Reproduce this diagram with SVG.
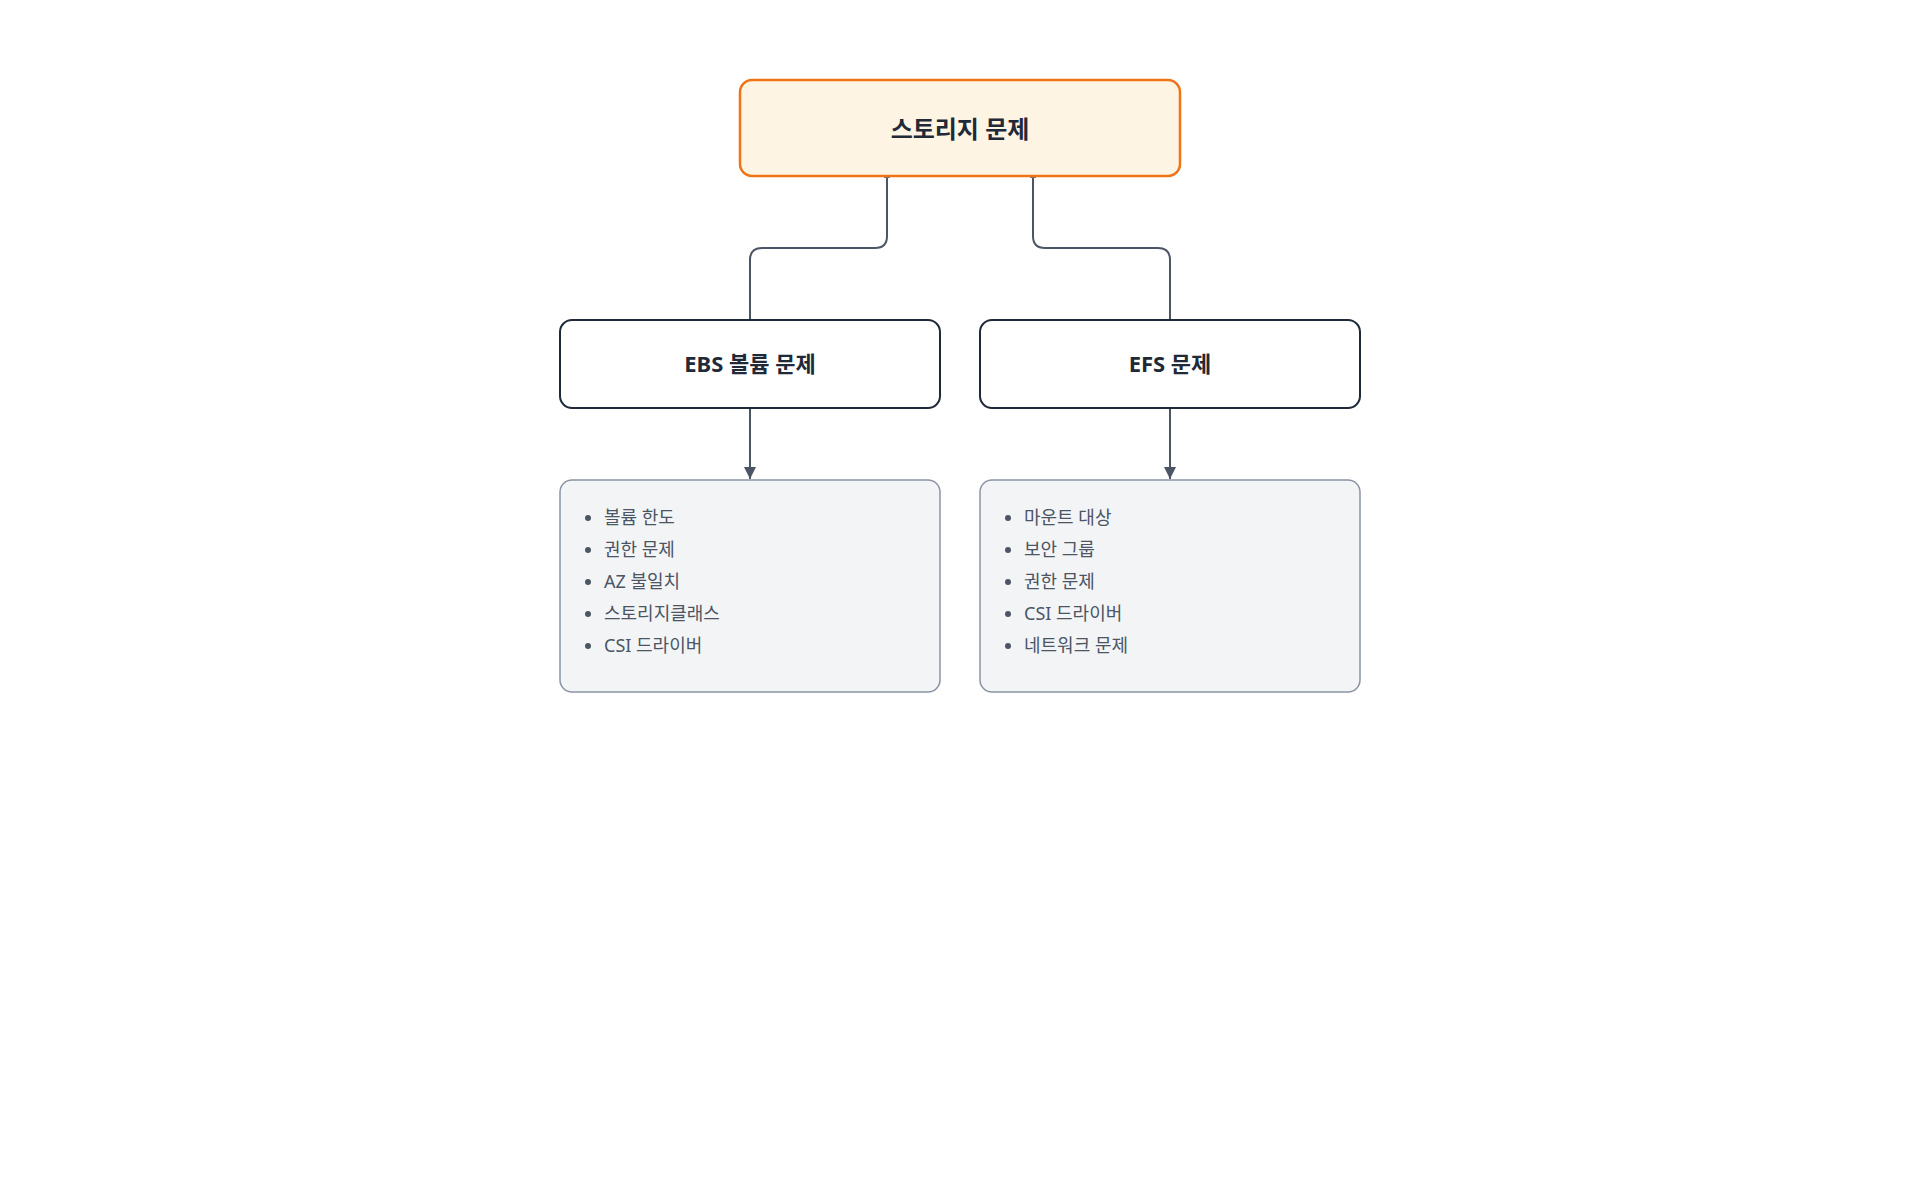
<svg xmlns="http://www.w3.org/2000/svg" width="1920" height="1200" viewBox="0 0 1920 1200">
<defs>
<marker id="arr" viewBox="0 0 12 12" refX="12" refY="6" markerWidth="12" markerHeight="12" markerUnits="userSpaceOnUse" orient="auto">
<path d="M0,0 L12,6 L0,12 z" fill="#4b5563"/>
</marker>
<style>
text{font-family:"Noto Sans","Noto Sans CJK KR",sans-serif}
.title{font-weight:700;fill:#1f2937;text-anchor:middle}
.item{font-size:18px;fill:#4b5563}
.bullet{fill:#4b5563}
.conn{fill:none;stroke:#4b5563;stroke-width:2}
.mid{fill:#ffffff;stroke:#1f2937;stroke-width:2}
.list{fill:#f3f4f6;stroke:#8a94a3;stroke-width:1.5}
</style>
</defs>
<rect width="1920" height="1200" fill="#ffffff"/>
<g id="connectors">
<path class="conn" d="M887,176 V236 Q887,248 875,248 H762 Q750,248 750,260 V320"/>
<path class="conn" d="M1033,176 V236 Q1033,248 1045,248 H1158 Q1170,248 1170,260 V320"/>
<rect x="884" y="176" width="6" height="2" fill="#6b7280"/>
<rect x="1030" y="176" width="6" height="2" fill="#6b7280"/>
<path class="conn" d="M750,408 V479" marker-end="url(#arr)"/>
<path class="conn" d="M1170,408 V479" marker-end="url(#arr)"/>
</g>
<g id="root">
<rect x="740" y="80" width="440" height="96" rx="12" fill="#fef4e4" stroke="#f07316" stroke-width="2.5"/>
<text class="title" x="960" y="138" font-size="24">스토리지 문제</text>
</g>
<g id="ebs">
<rect class="mid" x="560" y="320" width="380" height="88" rx="12"/>
<text class="title" x="750" y="372" font-size="22">EBS 볼륨 문제</text>
</g>
<g id="efs">
<rect class="mid" x="980" y="320" width="380" height="88" rx="12"/>
<text class="title" x="1170" y="372" font-size="22">EFS 문제</text>
</g>
<g id="ebs-list">
<rect class="list" x="560" y="480" width="380" height="212" rx="12"/>
<circle class="bullet" cx="588" cy="518" r="3"/>
<text class="item" x="604" y="524">볼륨 한도</text>
<circle class="bullet" cx="588" cy="550" r="3"/>
<text class="item" x="604" y="556">권한 문제</text>
<circle class="bullet" cx="588" cy="582" r="3"/>
<text class="item" x="604" y="588">AZ 불일치</text>
<circle class="bullet" cx="588" cy="614" r="3"/>
<text class="item" x="604" y="620">스토리지클래스</text>
<circle class="bullet" cx="588" cy="646" r="3"/>
<text class="item" x="604" y="652">CSI 드라이버</text>
</g>
<g id="efs-list">
<rect class="list" x="980" y="480" width="380" height="212" rx="12"/>
<circle class="bullet" cx="1008" cy="518" r="3"/>
<text class="item" x="1024" y="524">마운트 대상</text>
<circle class="bullet" cx="1008" cy="550" r="3"/>
<text class="item" x="1024" y="556">보안 그룹</text>
<circle class="bullet" cx="1008" cy="582" r="3"/>
<text class="item" x="1024" y="588">권한 문제</text>
<circle class="bullet" cx="1008" cy="614" r="3"/>
<text class="item" x="1024" y="620">CSI 드라이버</text>
<circle class="bullet" cx="1008" cy="646" r="3"/>
<text class="item" x="1024" y="652">네트워크 문제</text>
</g>
</svg>
